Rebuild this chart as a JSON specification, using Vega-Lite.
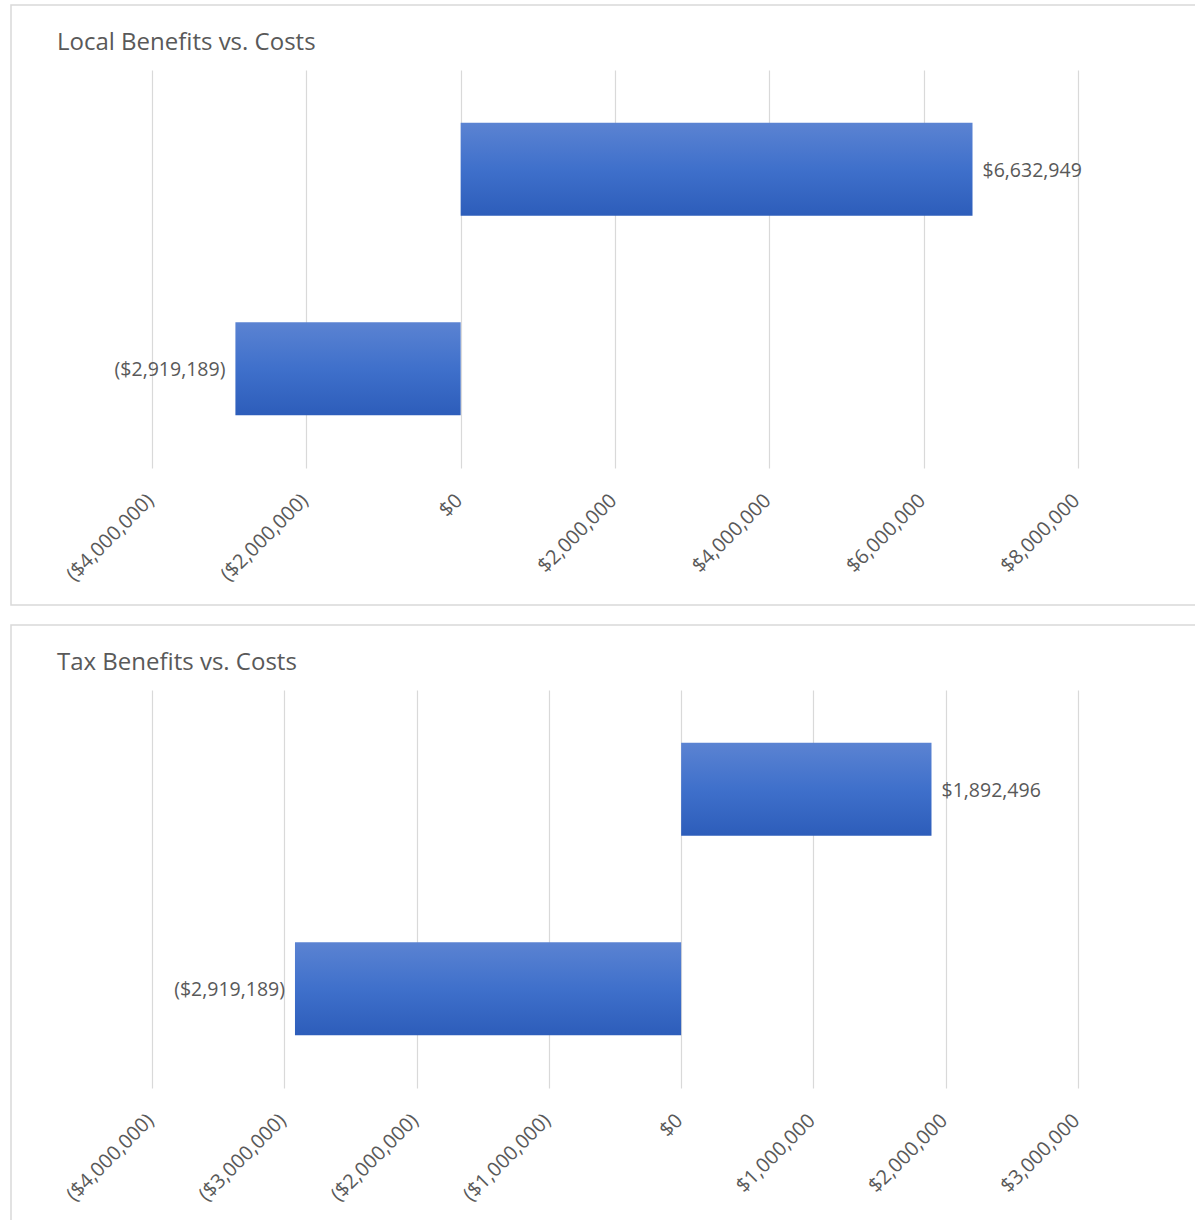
{
  "$schema": "https://vega.github.io/schema/vega-lite/v6.json",
  "padding": {"left": 10, "top": 4, "right": 0, "bottom": 0},
  "spacing": 18,
  "config": {
    "view": {"stroke": "#d9d9d9", "strokeWidth": 1.5},
    "font": "Open Sans",
    "title": {"color": "#595959", "font": "Open Sans", "fontWeight": "normal"},
    "axis": {"labelColor": "#595959", "labelFont": "Open Sans"}
  },
  "vconcat": [
    {
      "width": 1185,
      "height": 600,
      "title": {"text": "Local Benefits vs. Costs", "anchor": "start", "frame": "group", "fontSize": 24, "offset": 0, "dx": 46, "dy": 50},
      "data": {"values": [
        {"type": "Benefits", "value": 6632949},
        {"type": "Costs", "value": -2919189}
      ]},
      "encoding": {
        "y": {"field": "type", "type": "nominal", "sort": ["Benefits", "Costs"],
          "scale": {"domain": ["Benefits", "Costs"], "range": [65, 463], "paddingInner": 0.533, "paddingOuter": 0.264},
          "axis": null}
      },
      "layer": [
        {"mark": {"type": "bar", "color": {"gradient": "linear", "x1": 0, "y1": 0, "x2": 0, "y2": 1, "stops": [{"offset": 0, "color": "#5b83d2"}, {"offset": 0.5, "color": "#3f70cb"}, {"offset": 1, "color": "#2d5dba"}]}},
         "encoding": {"x": {"field": "value", "type": "quantitative",
          "scale": {"domain": [-4000000, 8000000], "range": [141, 1067], "nice": false, "zero": false},
          "axis": {"orient": "top", "values": [-4000000, -2000000, 0, 2000000, 4000000, 6000000, 8000000], "title": null, "labels": false, "domain": false, "ticks": false, "grid": true, "gridColor": "#d9d9d9", "gridWidth": 1.2}}}},
        {"transform": [{"filter": "datum.value >= 0"}],
         "mark": {"type": "text", "align": "left", "dx": 10, "dy": 1.5, "fontSize": 19.5, "color": "#595959"},
         "encoding": {
           "x": {"field": "value", "type": "quantitative",
             "axis": {"orient": "bottom", "values": [-4000000, -2000000, 0, 2000000, 4000000, 6000000, 8000000], "format": "($,.0f", "title": null, "domain": false, "ticks": false, "grid": false, "labelAngle": -45, "labelFontSize": 20, "labelPadding": 22, "labelOffset": -9, "offset": -137}},
           "text": {"field": "value", "type": "quantitative", "format": "($,.0f"}}},
        {"transform": [{"filter": "datum.value < 0"}],
         "mark": {"type": "text", "align": "right", "dx": -10, "dy": 1.5, "fontSize": 19.5, "color": "#595959"},
         "encoding": {
           "x": {"field": "value", "type": "quantitative", "axis": null},
           "text": {"field": "value", "type": "quantitative", "format": "($,.0f"}}}
      ],
      "resolve": {"axis": {"x": "independent"}}
    },
    {
      "width": 1185,
      "height": 598,
      "title": {"text": "Tax Benefits vs. Costs", "anchor": "start", "frame": "group", "fontSize": 24, "offset": 0, "dx": 46, "dy": 50},
      "data": {"values": [
        {"type": "Benefits", "value": 1892496},
        {"type": "Costs", "value": -2919189}
      ]},
      "encoding": {
        "y": {"field": "type", "type": "nominal", "sort": ["Benefits", "Costs"],
          "scale": {"domain": ["Benefits", "Costs"], "range": [65, 463], "paddingInner": 0.533, "paddingOuter": 0.264},
          "axis": null}
      },
      "layer": [
        {"mark": {"type": "bar", "color": {"gradient": "linear", "x1": 0, "y1": 0, "x2": 0, "y2": 1, "stops": [{"offset": 0, "color": "#5b83d2"}, {"offset": 0.5, "color": "#3f70cb"}, {"offset": 1, "color": "#2d5dba"}]}},
         "encoding": {"x": {"field": "value", "type": "quantitative",
          "scale": {"domain": [-4000000, 3000000], "range": [141, 1067], "nice": false, "zero": false},
          "axis": {"orient": "top", "values": [-4000000, -3000000, -2000000, -1000000, 0, 1000000, 2000000, 3000000], "title": null, "labels": false, "domain": false, "ticks": false, "grid": true, "gridColor": "#d9d9d9", "gridWidth": 1.2}}}},
        {"transform": [{"filter": "datum.value >= 0"}],
         "mark": {"type": "text", "align": "left", "dx": 10, "dy": 1.5, "fontSize": 19.5, "color": "#595959"},
         "encoding": {
           "x": {"field": "value", "type": "quantitative",
             "axis": {"orient": "bottom", "values": [-4000000, -3000000, -2000000, -1000000, 0, 1000000, 2000000, 3000000], "format": "($,.0f", "title": null, "domain": false, "ticks": false, "grid": false, "labelAngle": -45, "labelFontSize": 20, "labelPadding": 22, "labelOffset": -9, "offset": -135}},
           "text": {"field": "value", "type": "quantitative", "format": "($,.0f"}}},
        {"transform": [{"filter": "datum.value < 0"}],
         "mark": {"type": "text", "align": "right", "dx": -10, "dy": 1.5, "fontSize": 19.5, "color": "#595959"},
         "encoding": {
           "x": {"field": "value", "type": "quantitative", "axis": null},
           "text": {"field": "value", "type": "quantitative", "format": "($,.0f"}}}
      ],
      "resolve": {"axis": {"x": "independent"}}
    }
  ]
}
